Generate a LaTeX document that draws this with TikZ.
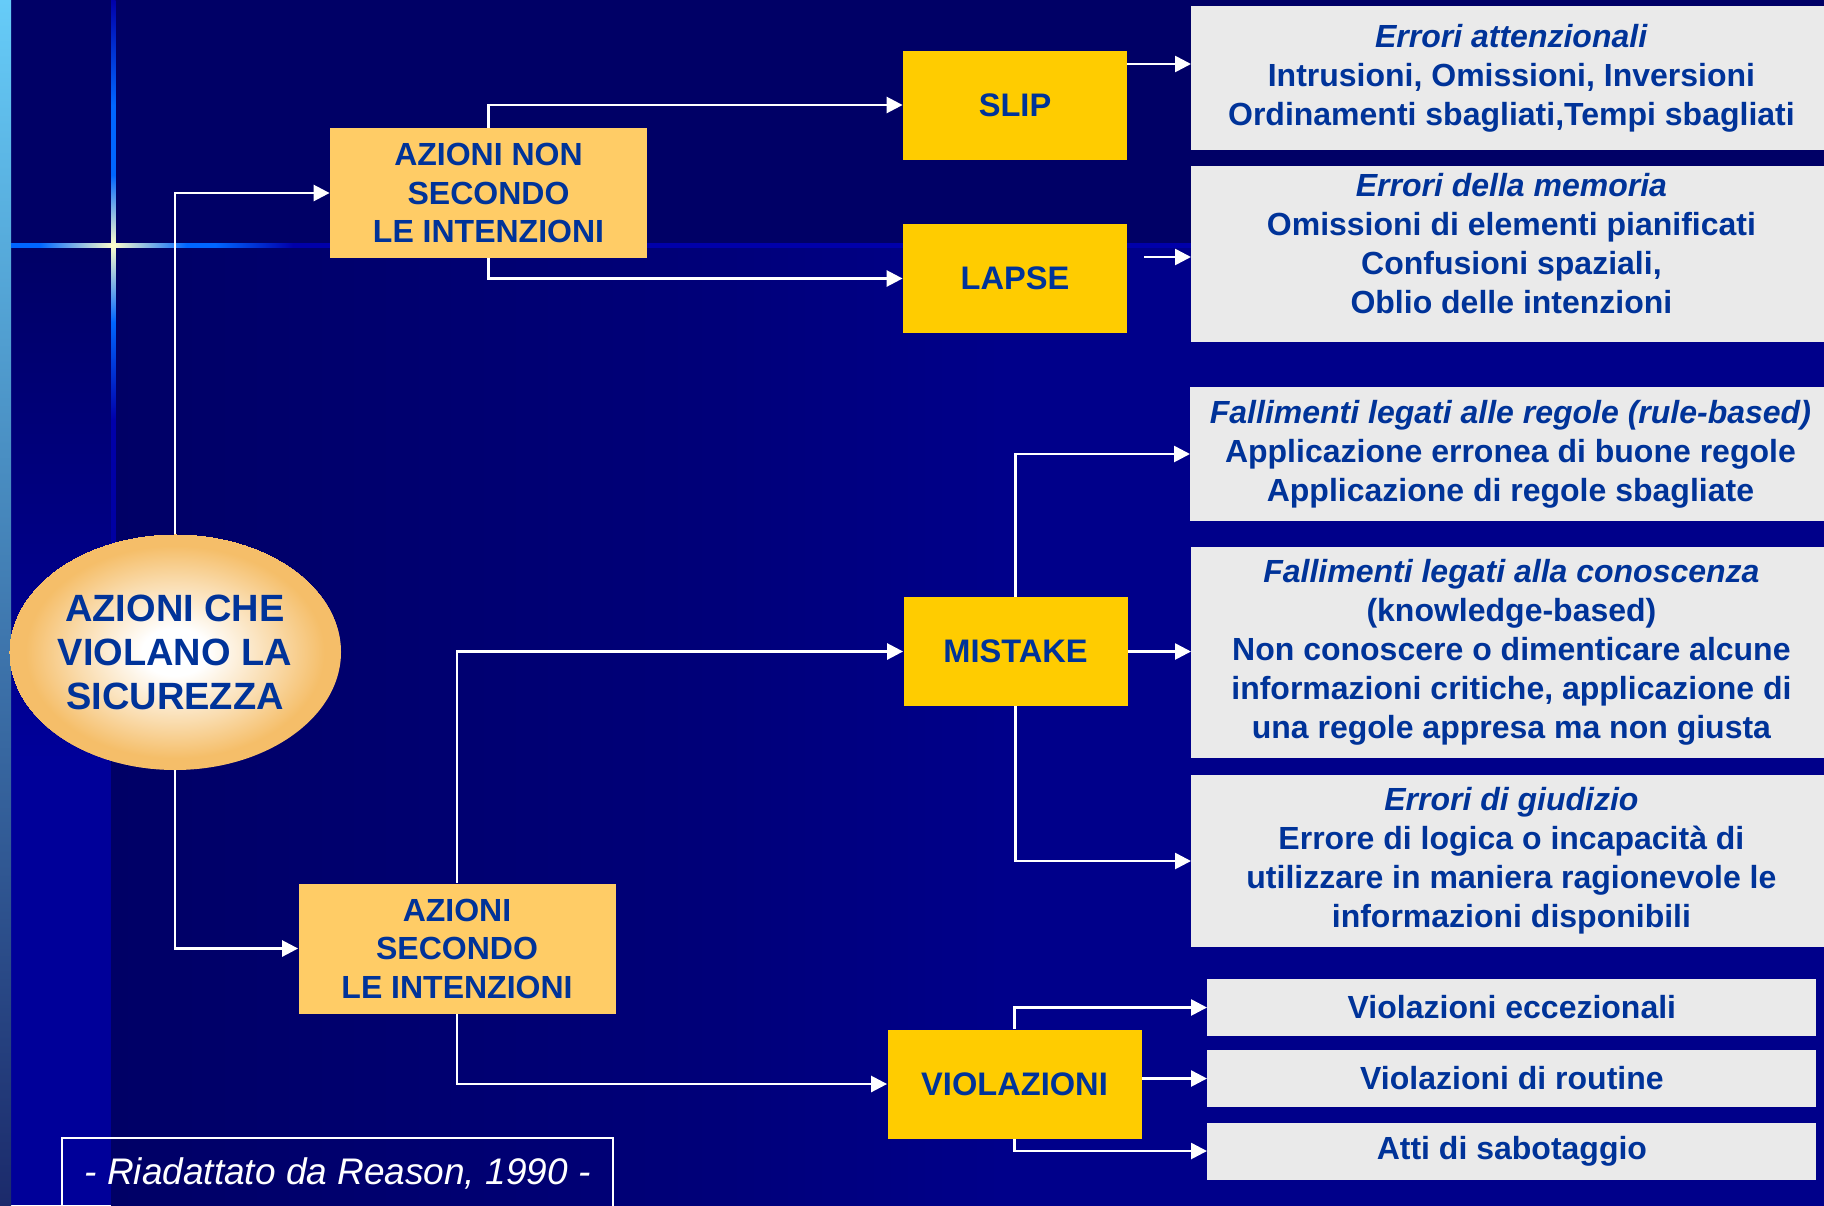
\documentclass[tikz,border=0pt]{standalone}
\usepackage{fontspec}
\setmainfont{Liberation Sans}
\usetikzlibrary{arrows.meta,shapes.geometric}
\definecolor{bgnavy}{HTML}{000066}
\definecolor{bgmid}{HTML}{000078}
\definecolor{bglow}{HTML}{00008A}
\definecolor{bandblue}{HTML}{000099}
\definecolor{striptop}{HTML}{66CCF8}
\definecolor{stripmid}{HTML}{4A8FC6}
\definecolor{stripbot}{HTML}{1B2A6B}
\definecolor{flareblue}{HTML}{0066FF}
\definecolor{flaredim}{HTML}{0000AA}
\definecolor{flarecream}{HTML}{FFFFCC}
\definecolor{txtblue}{HTML}{003399}
\definecolor{slipyellow}{HTML}{FFCC00}
\definecolor{azorange}{HTML}{FFCC66}
\definecolor{ellorange}{HTML}{F5BE69}
\definecolor{boxgrey}{HTML}{EAEAEA}
% shadings: the square 25bp--75bp is stretched over the path
\pgfdeclarehorizontalshading{lowbg}{100bp}{color(0bp)=(bgnavy); color(25bp)=(bgnavy); color(42bp)=(bgmid); color(51bp)=(bglow); color(100bp)=(bglow)}
\pgfdeclarehorizontalshading{hflare}{100bp}{color(0bp)=(flareblue); color(32bp)=(flareblue); color(50bp)=(flarecream); color(68bp)=(flareblue); color(100bp)=(flareblue)}
\pgfdeclarehorizontalshading{hfade}{100bp}{color(0bp)=(flareblue); color(25bp)=(flareblue); color(29bp)=(flaredim); color(100bp)=(flaredim)}
\pgfdeclareverticalshading{vflare}{100bp}{color(0bp)=(bandblue); color(25bp)=(bandblue); color(45bp)=(flaredim); color(52bp)=(flareblue); color(57.5bp)=(flarecream); color(62.5bp)=(flareblue); color(67.5bp)=(flareblue); color(75bp)=(flaredim); color(100bp)=(flaredim)}
\pgfdeclareradialshading{ellshade}{\pgfpoint{0bp}{0bp}}{color(0bp)=(white); color(5bp)=(white); color(15bp)=(ellorange!55!white); color(22.5bp)=(ellorange); color(25bp)=(ellorange)}
\tikzset{>/.tip={Triangle[length=8pt,width=8pt]},
  link/.style={->, draw=white, line width=1.3pt},
  ell/.style={ellipse, shading=ellshade, minimum width=166pt, minimum height=118pt, inner sep=0pt, align=center, text=txtblue, font=\bfseries\fontsize{19}{22}\selectfont},
  azbox/.style={fill=azorange, minimum width=158.5pt, minimum height=65pt, inner sep=0pt, align=center, text=txtblue, font=\bfseries\fontsize{16}{19.25}\selectfont},
  yelbox/.style={fill=slipyellow, minimum width=112pt, minimum height=54.5pt, inner sep=0pt, text=txtblue, font=\bfseries\fontsize{16.3}{19.5}\selectfont},
  greybox/.style={fill=boxgrey, anchor=west, minimum width=320pt, inner sep=0pt, align=center, text=txtblue, font=\bfseries\fontsize{16}{19.5}\selectfont},
  viobox/.style={greybox, minimum width=304.5pt, minimum height=28.5pt},
  source/.style={draw=white, line width=1.2pt, minimum width=275.5pt, minimum height=35pt, text=white, font=\itshape\fontsize{18.5}{21}\selectfont}}
\begin{document}
\begin{tikzpicture}[x=0.5pt,y=-0.5pt]
\useasboundingbox (0,0) rectangle (1824,1205);
% background of the slide
\fill[bgnavy] (0,0) rectangle (1824,1205);
\shade[shading=lowbg] (111,247) rectangle (1824,1205);
\shade[top color=bgnavy, bottom color=bandblue] (11,247) rectangle (111,760);
\fill[bandblue] (11,760) rectangle (111,1205);
\shade[top color=striptop, middle color=stripmid, bottom color=stripbot] (0,0) rectangle (11,1205);
\shade[shading=hflare] (11,243) rectangle (215,247.5);
\shade[shading=hfade] (215,243) rectangle (1191,247.5);
\shade[shading=vflare] (111,0) rectangle (115.5,700);

\node[ell] (azcs) at (175,652) {AZIONI CHE\\VIOLANO LA\\SICUREZZA};
\node[azbox] (nonint) at (488.5,193) {AZIONI NON\\SECONDO\\LE INTENZIONI};
\node[azbox] (secint) at (457,948.5) {AZIONI\\SECONDO\\LE INTENZIONI};
\node[yelbox] (slip) at (1015,105) {SLIP};
\node[yelbox] (lapse) at (1015,278.5) {LAPSE};
\node[yelbox] (mistake) at (1015.5,651.5) {MISTAKE};
\node[yelbox, minimum width=127pt] (violaz) at (1014.5,1084) {VIOLAZIONI};
\node[greybox, minimum height=72pt] (attenz) at (1191,78) {\textit{Errori attenzionali}\\Intrusioni, Omissioni, Inversioni\\Ordinamenti sbagliati,Tempi sbagliati};
\node[greybox, minimum height=88pt] (memoria) at (1191,254) {\textit{Errori della memoria}\\Omissioni di elementi pianificati\\Confusioni spaziali,\\Oblio delle intenzioni\\[-9pt]\mbox{}};
\node[greybox, minimum height=67pt] (rule) at (1190,454) {\textit{Fallimenti legati alle regole (rule-based)}\\Applicazione erronea di buone regole\\Applicazione di regole sbagliate};
\node[greybox, minimum height=105.5pt] (knowl) at (1191,652.5) {\textit{Fallimenti legati alla conoscenza}\\(knowledge-based)\\Non conoscere o dimenticare alcune\\informazioni critiche, applicazione di\\una regole appresa ma non giusta};
\node[greybox, minimum height=86pt] (giudizio) at (1191,861) {\textit{Errori di giudizio}\\Errore di logica o incapacità di\\utilizzare in maniera ragionevole le\\informazioni disponibili};
\node[viobox] (vecc) at (1207,1007.5) {Violazioni eccezionali};
\node[viobox] (vrout) at (1207,1078.5) {Violazioni di routine};
\node[viobox] (vsab) at (1207,1151) {Atti di sabotaggio};
\node[source] (ref) at (337.5,1173) {- Riadattato da Reason, 1990 -};

\coordinate (slipout) at (1127,64);
\coordinate (lapseout) at (1144,257);
\foreach \a/\b in {azcs.north/nonint, azcs.south/secint, nonint.north/slip, nonint.south/lapse,
  secint.north/mistake, secint.south/violaz, mistake.north/rule, mistake.south/giudizio,
  violaz.north/vecc, violaz.south/vsab}
{
  \draw[link] (\a) |- (\b.west);
}
\draw[link] (slipout) -- (slipout -| attenz.west);
\draw[link] (lapseout) -- (lapseout -| memoria.west);
\draw[link] (mistake.east) -- (mistake.east -| knowl.west);
\draw[link] (vrout.west -| violaz.east) -- (vrout.west);
\end{tikzpicture}
\end{document}
